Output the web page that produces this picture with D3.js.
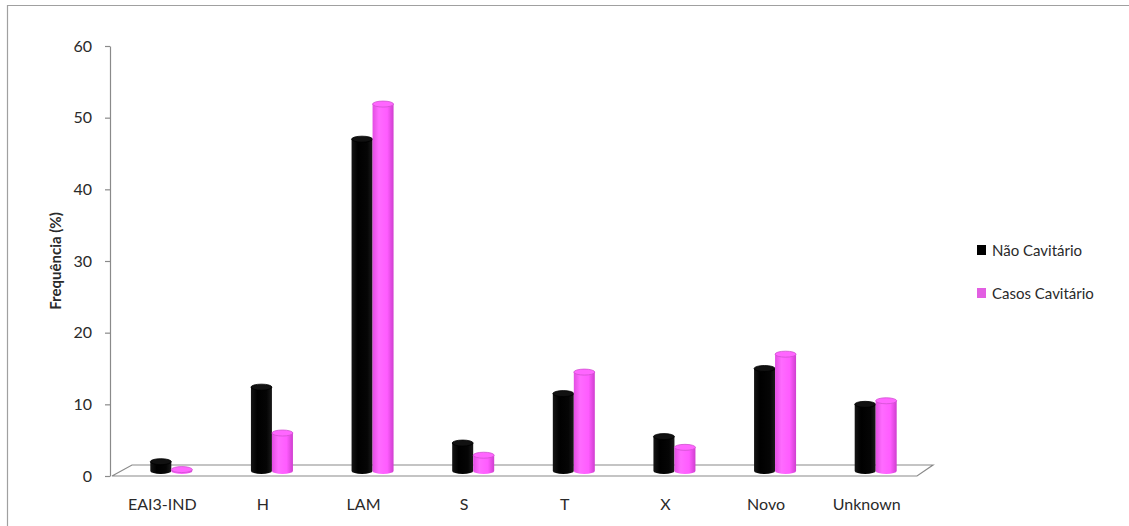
<!DOCTYPE html>
<html>
<head>
<meta charset="utf-8">
<script src="https://cdn.jsdelivr.net/npm/d3@7"></script>
<style>
  html, body { margin: 0; padding: 0; background: #fff; }
  svg { display: block; }
  text { font-family: Lato, "Open Sans", sans-serif; fill: #2a2a2a; }
</style>
</head>
<body>
<svg id="chart" width="1129" height="526"></svg>
<script>
// Categories and series values (%)
const categories = ["EAI3-IND", "H", "LAM", "S", "T", "X", "Novo", "Unknown"];
const seriesNames = ["Não Cavitário", "Casos Cavitário"];
const naoCavitario = [1.3, 11.7, 46.3, 3.9, 10.8, 4.8, 14.3, 9.3];
const casosCavitario = [0.2, 5.3, 51.2, 2.2, 13.8, 3.3, 16.3, 9.8];
const yTicks = [0, 10, 20, 30, 40, 50, 60];

const svg = d3.select("#chart");

// outer frame
svg.append("path")
  .attr("d", "M7.5,526 V5.5 H1129")
  .attr("fill", "none").attr("stroke", "#a0a0a0").attr("stroke-width", 1.2);

const x = d3.scaleBand().domain(categories).range([112, 917]);
const y = d3.scaleLinear().domain([0, 60]).range([476, 46]);
const depthX = 9, depthY = -5;        // half-depth shift of the 3D bars
const xs = d3.scaleBand().domain(seriesNames).range([0, 42]);

const defs = svg.append("defs");
function cylGrad(id, stops) {
  const g = defs.append("linearGradient").attr("id", id)
    .attr("x1", "0").attr("x2", "1").attr("y1", "0").attr("y2", "0");
  stops.forEach(s => g.append("stop").attr("offset", s[0]).attr("stop-color", s[1]));
}
cylGrad("gBlack", [[0, "#151515"], [0.3, "#000"], [0.75, "#050505"], [1, "#1a1a1a"]]);
cylGrad("gPink", [[0, "#e24de2"], [0.3, "#ff6bff"], [0.7, "#ff5cff"], [1, "#cf3fcf"]]);
const fills = { "Não Cavitário": "url(#gBlack)", "Casos Cavitário": "url(#gPink)" };
const tops = { "Não Cavitário": "#111", "Casos Cavitário": "#ff66ff" };
const topStroke = { "Não Cavitário": "#000", "Casos Cavitário": "#d050d0" };
const legendColors = { "Não Cavitário": "#000", "Casos Cavitário": "#e25fe2" };

// 3D floor
const x0 = x.range()[0], x1 = x.range()[1];
svg.append("path")
  .attr("d", `M${x0},${y(0)} L${x0 + 20},${y(0) - 11} L${x1 + 16},${y(0) - 11} L${x1},${y(0)} Z`)
  .attr("fill", "#fff").attr("stroke", "#8a8a8a").attr("stroke-width", 1.2);

// y axis
const yAxis = svg.append("g").attr("transform", "translate(110,0)")
  .call(d3.axisLeft(y).tickValues(yTicks).tickSize(5).tickPadding(13).tickSizeOuter(0));
yAxis.select(".domain").attr("stroke", "#8a8a8a").attr("stroke-width", 1.2);
yAxis.selectAll(".tick line").attr("stroke", "#8a8a8a").attr("stroke-width", 1.2);
yAxis.selectAll(".tick text").attr("font-size", 16).attr("fill", "#2a2a2a")
  .style("font-family", "Lato, 'Open Sans', sans-serif");

// axis title
svg.append("text")
  .attr("transform", "translate(61,261) rotate(-90)")
  .attr("text-anchor", "middle")
  .attr("font-size", 15).attr("font-weight", "bold")
  .text("Frequência (%)");

// category labels
svg.append("g").selectAll("text").data(categories).join("text")
  .attr("x", d => x(d) + x.bandwidth() / 2)
  .attr("y", 510)
  .attr("text-anchor", "middle")
  .attr("font-size", 16)
  .text(d => d);

// cylinders
const rows = categories.map((c, i) => ({ cat: c, vals: [naoCavitario[i], casosCavitario[i]] }));
const ry = 3;
const groups = svg.append("g").selectAll("g").data(rows).join("g");
seriesNames.forEach((s, si) => {
  const cyl = groups.append("g");
  cyl.each(function(d) {
    const g = d3.select(this);
    const v = d.vals[si];
    const left = x(d.cat) + x.bandwidth() / 2 - 21 + depthX + xs(s);
    const w = xs.bandwidth();
    const cx = left + w / 2;
    const yb = y(0) + depthY;
    const yt = y(v) + depthY;
    g.append("path")
      .attr("d", `M${left},${yt} L${left},${yb} A${w / 2},${ry} 0 0 0 ${left + w},${yb} L${left + w},${yt} Z`)
      .attr("fill", fills[s]);
    g.append("ellipse")
      .attr("cx", cx).attr("cy", yt).attr("rx", w / 2).attr("ry", ry)
      .attr("fill", tops[s]).attr("stroke", topStroke[s]).attr("stroke-width", 0.8);
  });
});

// legend
const legend = svg.append("g").selectAll("g").data(seriesNames).join("g")
  .attr("transform", (d, i) => `translate(977,${245 + i * 43})`);
legend.append("rect").attr("width", 9).attr("height", 10)
  .attr("fill", d => legendColors[d]);
legend.append("text").attr("x", 15).attr("y", 10.5)
  .attr("font-size", 15).text(d => d);
</script>
</body>
</html>
